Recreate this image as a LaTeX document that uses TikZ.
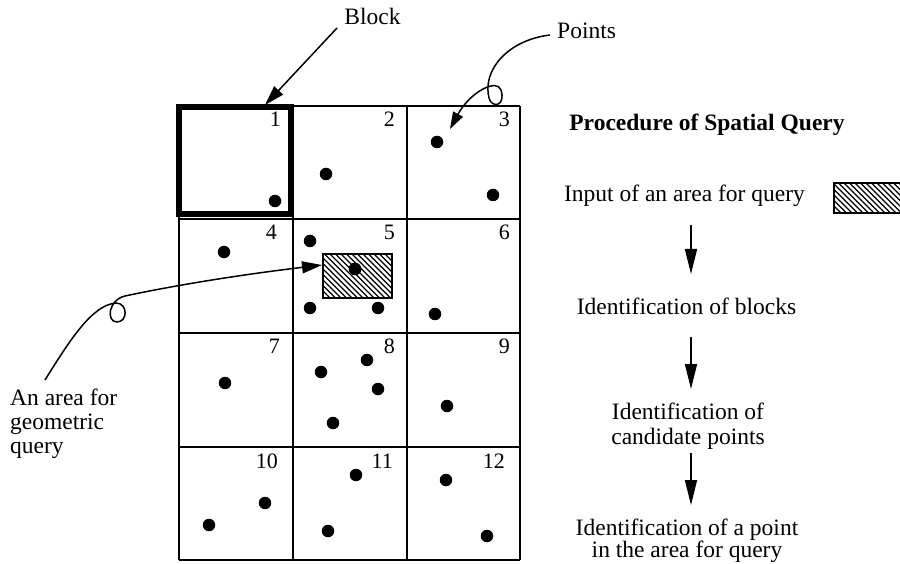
\documentclass[tikz,border=0pt]{standalone}
\usepackage{fontspec}
\setmainfont{Liberation Serif}
\usetikzlibrary{arrows.meta}
\begin{document}
\begin{tikzpicture}[x=1pt,y=-1pt,
  gridline/.style={line width=1.8pt},
  blockline/.style={line width=5.5pt},
  dot/.style={circle,fill=black,inner sep=0pt,minimum size=12.5pt},
  num/.style={anchor=base east,font=\fontsize{22}{24}\selectfont,inner sep=0pt},
  lbl/.style={font=\fontsize{23.5}{25}\selectfont,inner sep=0pt,align=center,anchor=base},
  hatchline/.style={line width=1.2pt},
  qbox/.style={line width=1.6pt},
  callout/.style={line width=1.5pt,-{Triangle[length=20pt,width=12pt]}},
  stepflow/.style={line width=1.6pt,-{Triangle[length=25pt,width=12pt]}},
]
\useasboundingbox (0,0) rectangle (900,564);
% grid
\foreach \x in {179,293,407,520} \draw[gridline] (\x,106) -- (\x,560);
\foreach \y in {106,219,333,447,560} \draw[gridline] (179,\y) -- (520,\y);
\draw[blockline] (179,107) rectangle (291,214);
% cell numbers
\node[num] (n1) at (281,127) {1};
\node[num] (n2) at (395,127) {2};
\node[num] (n3) at (510,127) {3};
\node[num] (n4) at (277,240) {4};
\node[num] (n5) at (395,240) {5};
\node[num] (n6) at (510,240) {6};
\node[num] (n7) at (280,353) {7};
\node[num] (n8) at (395,353) {8};
\node[num] (n9) at (510,353) {9};
\node[num] (n10) at (278,468) {10};
\node[num] (n11) at (393,468) {11};
\node[num] (n12) at (505,468) {12};
% points
\foreach \p/\q [count=\i] in {275/201,326/174,437/142,493/195,224/252,310/241,355/269,310/308,378/308,435/314,225/383,321/372,367/360,378/389,333/423,447/406,265/503,209/525,356/475,328/531,446/480,487/536}
  \node[dot] (p\i) at (\p,\q) {};
% query area in cell 5
\begin{scope}
  \clip (323,254) rectangle (392,298);
  \foreach \i in {0,...,24} \draw[hatchline] ({275+\i*5.5},254) -- ++(50,50);
\end{scope}
\node[draw,qbox,minimum width=69pt,minimum height=44pt,inner sep=0pt] (qa) at (357.5,276) {};
\node[dot] at (355,269) {};
% labels
\node[lbl] (block) at (372.5,25) {Block};
\node[lbl,anchor=base west] (points) at (557,39) {Points};
\node[font=\fontsize{23.5}{24}\selectfont,inner sep=0pt,align=left,anchor=north west] (area) at (10,389) {An area for\\geometric\\query};
% callouts
\coordinate (bs) at (337,28);
\coordinate (bt) at (265,105);
\draw[callout] (bs) -- (bt);
\coordinate (ps) at (550,35);
\coordinate (pt) at (450,129);
\draw[callout,-{Triangle[length=17pt,width=11pt]}] (ps) .. controls (508,40) and (482,70) .. (489,98)
  .. controls (492,109) and (506,106) .. (501,90)
  .. controls (497,78) and (470,92) .. (pt);
\coordinate (as) at (45,380);
\coordinate (at) at (322,265);
\draw[callout] (as) .. controls (70,340) and (92,305) .. (116,303)
  .. controls (128,303) and (128,322) .. (117,322)
  .. controls (106,322) and (108,300) .. (125,296)
  .. controls (200,280) and (280,270) .. (at);
% procedure
\node[lbl,font=\fontsize{23.5}{25}\selectfont\bfseries] (title) at (707,131) {Procedure of Spatial Query};
\node[lbl] (s1) at (684.5,202) {Input of an area for query};
\node[lbl] (s2) at (686.5,315) {Identification of blocks};
\node[lbl,anchor=north] (s3) at (688,403) {Identification of\\candidate points};
\node[lbl,anchor=north,font=\fontsize{23.5}{22}\selectfont] (s4) at (687,519) {Identification of a point\\in the area for query};
\begin{scope}
  \clip (834,183) rectangle (900,213);
  \foreach \i in {0,...,21} \draw[hatchline] ({800+\i*5.5},183) -- ++(40,40);
\end{scope}
\draw[qbox] (905,183) -- (834,183) -- (834,213) -- (905,213);
\coordinate (a1s) at (691,225); \coordinate (a1t) at (691,274);
\coordinate (a2s) at (691,337); \coordinate (a2t) at (691,389);
\coordinate (a3s) at (691,453); \coordinate (a3t) at (691,505);
\draw[stepflow] (a1s) -- (a1t);
\draw[stepflow] (a2s) -- (a2t);
\draw[stepflow] (a3s) -- (a3t);
\end{tikzpicture}
\end{document}
